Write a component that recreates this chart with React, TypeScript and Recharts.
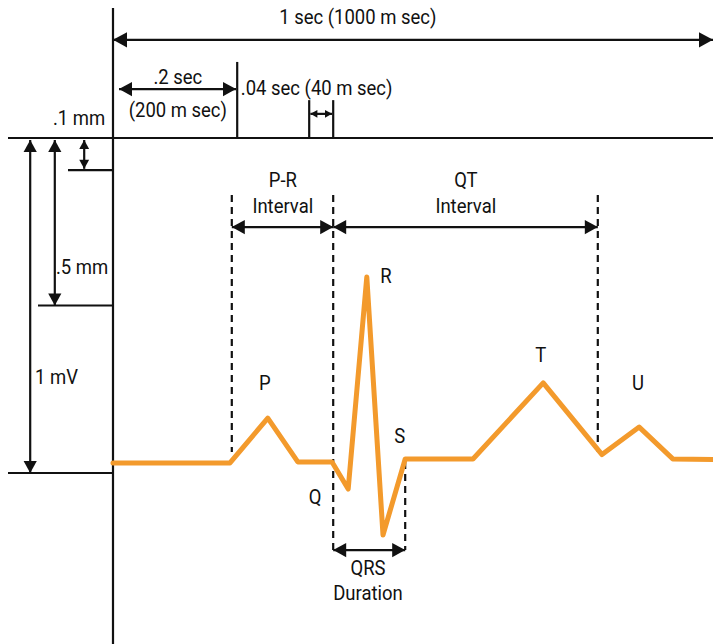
import React from 'react';
import { ComposedChart, Line, XAxis, YAxis, ReferenceLine, ReferenceDot } from 'recharts';

// ECG trace: time in ms, amplitude in mV
const ecgTime = [0, 195, 258, 308, 365, 392, 423, 450, 487, 600, 717, 815, 877, 933, 1000];
const ecgMv = [0.03, 0.03, 0.164, 0.033, 0.033, -0.048, 0.585, -0.185, 0.042, 0.042, 0.269, 0.055, 0.137, 0.042, 0.04];

// interval markers (ms)
const oneSecond = [0, 1000];
const twoTenths = [10, 207];
const fortyMs = [327, 367];
const prInterval = [198, 367];
const qtInterval = [367, 808];
const qrsDuration = [367, 487];

// amplitude markers (mV)
const oneMv = [0, 1];
const halfMm = [0.5, 1];
const tenthMm = [0.904, 1];

const waveLabels = ['P', 'Q', 'R', 'S', 'T', 'U'];

const data = ecgTime.map((t, i) => ({ t, mv: ecgMv[i] }));

const INK = '#111';
const FONT = "Roboto, 'Liberation Sans', sans-serif";
const X_DOMAIN = [-188.33, 1000];
const Y_DOMAIN = [-0.5104, 1.4119];

if (typeof document !== 'undefined') {
  document.body.style.margin = '0';
  document.documentElement.style.overflow = 'hidden';
}

function head(x: number, y: number, dx: number, dy: number, size: number) {
  const len = Math.hypot(dx, dy) || 1;
  const ux = dx / len;
  const uy = dy / len;
  const bx = x - ux * size;
  const by = y - uy * size;
  const w = size * 0.55;
  return `${x},${y} ${bx - uy * w},${by + ux * w} ${bx + uy * w},${by - ux * w}`;
}

const arrow = (ends: 'both' | 'none', size = 12, dash?: string) => (p: any) => {
  const x1 = Number(p.x1), y1 = Number(p.y1), x2 = Number(p.x2), y2 = Number(p.y2);
  return (
    <g>
      <line x1={x1} y1={y1} x2={x2} y2={y2} stroke={INK} strokeWidth={2.2} strokeDasharray={dash} />
      {ends === 'both' && (
        <>
          <polygon points={head(x1, y1, x1 - x2, y1 - y2, size)} fill={INK} />
          <polygon points={head(x2, y2, x2 - x1, y2 - y1, size)} fill={INK} />
        </>
      )}
    </g>
  );
};

// condensed look: Roboto squeezed horizontally
const label = (text: string, anchor: 'middle' | 'start' | 'end' = 'middle') => (p: any) => (
  <text
    x={0}
    y={0}
    transform={`translate(${p.cx},${p.cy}) scale(0.88,1)`}
    textAnchor={anchor}
    dominantBaseline="central"
    fontFamily={FONT}
    fontSize={21}
    fill={INK}
  >
    {text}
  </text>
);

export default function App() {
  const seg = (x1: number, y1: number, x2: number, y2: number, shape: any, key: string) => (
    <ReferenceLine
      key={key}
      segment={[{ x: x1, y: y1 }, { x: x2, y: y2 }]}
      shape={shape}
      ifOverflow="visible"
    />
  );
  const txt = (x: number, y: number, text: string, key: string, anchor: 'middle' | 'start' | 'end' = 'middle') => (
    <ReferenceDot key={key} x={x} y={y} r={0} shape={label(text, anchor)} ifOverflow="visible" />
  );

  return (
    <div style={{ width: 713, height: 644, background: '#fff', overflow: 'hidden' }}>
      <ComposedChart width={713} height={644} data={data} margin={{ top: 0, right: 0, bottom: 0, left: 0 }}>
        <XAxis type="number" dataKey="t" domain={X_DOMAIN} hide allowDataOverflow />
        <YAxis type="number" domain={Y_DOMAIN} hide allowDataOverflow />

        {/* frame lines */}
        {seg(0, Y_DOMAIN[0], 0, 1.388, arrow('none'), 'axis')}
        {seg(-175, 1, 1000, 1, arrow('none'), 'top')}
        {seg(-175, oneMv[0], 0, oneMv[0], arrow('none'), 'base')}
        {seg(-125, halfMm[0], 0, halfMm[0], arrow('none'), 'half')}
        {seg(-75, tenthMm[0], 0, tenthMm[0], arrow('none'), 'tenth')}

        {/* amplitude arrows */}
        {seg(-138, oneMv[1] - 0.006, -138, oneMv[0], arrow('both'), 'mv')}
        {seg(-97, halfMm[1] - 0.006, -97, halfMm[0], arrow('both'), 'hm')}
        {seg(-48, tenthMm[1] - 0.006, -48, tenthMm[0] + 0.004, arrow('both', 9), 'tm')}

        {/* time arrows at top */}
        {seg(oneSecond[0], 1.293, oneSecond[1], 1.293, arrow('both', 14), 'sec')}
        {seg(twoTenths[1], 1.227, twoTenths[1], 1, arrow('none'), 'tick2')}
        {seg(twoTenths[0], 1.146, twoTenths[1] - 2, 1.146, arrow('both', 13), 'two')}
        {seg(fortyMs[0], 1.113, fortyMs[0], 1, arrow('none'), 'f1')}
        {seg(fortyMs[1], 1.113, fortyMs[1], 1, arrow('none'), 'f2')}
        {seg(fortyMs[0] + 2, 1.072, fortyMs[1] - 2, 1.072, arrow('both', 7), 'f3')}

        {/* dashed interval bounds */}
        {seg(prInterval[0], 0.83, prInterval[0], 0.063, arrow('none', 0, '7 5'), 'd1')}
        {seg(prInterval[1], 0.83, prInterval[1], -0.23, arrow('none', 0, '7 5'), 'd2')}
        {seg(qtInterval[1], 0.83, qtInterval[1], 0.063, arrow('none', 0, '7 5'), 'd3')}
        {seg(qrsDuration[1], 0.033, qrsDuration[1], -0.23, arrow('none', 0, '7 5'), 'd4')}
        {seg(prInterval[0], 0.734, prInterval[1], 0.734, arrow('both', 13), 'pr')}
        {seg(qtInterval[0], 0.734, qtInterval[1], 0.734, arrow('both', 13), 'qt')}
        {seg(qrsDuration[0], -0.23, qrsDuration[1], -0.23, arrow('both', 13), 'qrs')}

        <Line
          type="linear"
          dataKey="mv"
          stroke="#F39A2C"
          strokeWidth={5}
          strokeLinejoin="round"
          strokeLinecap="round"
          dot={false}
          activeDot={false}
          isAnimationActive={false}
        />

        {/* text */}
        {txt(408, 1.36, '1 sec (1000 m sec)', 't1')}
        {txt(108, 1.182, '.2 sec', 't2')}
        {txt(108, 1.084, '(200 m sec)', 't3')}
        {txt(213, 1.149, '.04 sec (40 m sec)', 't4', 'start')}
        {txt(-13, 1.06, '.1 mm', 't5', 'end')}
        {txt(-8, 0.615, '.5 mm', 't6', 'end')}
        {txt(-130, 0.287, '1 mV', 't7', 'start')}
        {txt(283, 0.875, 'P-R', 't8')}
        {txt(283, 0.797, 'Interval', 't9')}
        {txt(588, 0.875, 'QT', 't10')}
        {txt(588, 0.797, 'Interval', 't11')}
        {txt(425, -0.284, 'QRS', 't12')}
        {txt(425, -0.358, 'Duration', 't13')}
        {txt(253, 0.269, waveLabels[0], 'wP')}
        {txt(337, -0.072, waveLabels[1], 'wQ')}
        {txt(455, 0.588, waveLabels[2], 'wR')}
        {txt(478, 0.11, waveLabels[3], 'wS')}
        {txt(713, 0.352, waveLabels[4], 'wT')}
        {txt(875, 0.269, waveLabels[5], 'wU')}
      </ComposedChart>
    </div>
  );
}
